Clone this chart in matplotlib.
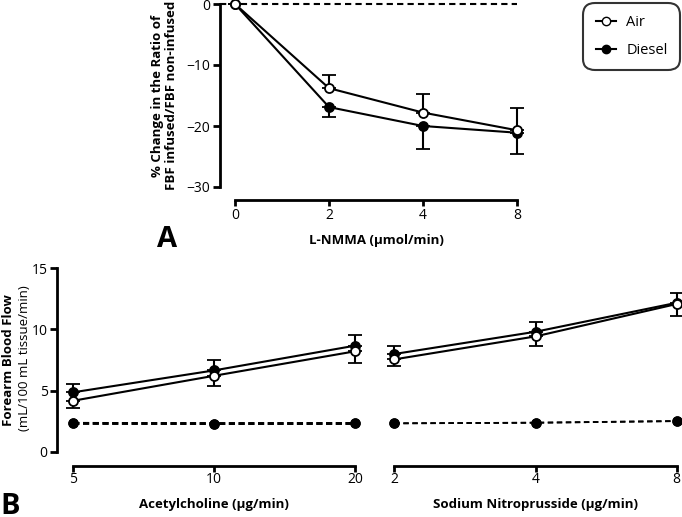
import numpy as np
import matplotlib.pyplot as plt

plt.rcParams['font.family'] = ['Open Sans', 'DejaVu Sans']

# panel A: L-NMMA
lnmma_doses = ["0", "2", "4", "8"]
lnmma_air = [0, -13.8, -17.8, -20.7]
lnmma_air_sem = [0, 2.1, 3.05, 3.7]
lnmma_diesel = [0, -16.9, -20.0, -21.1]
lnmma_diesel_sem = [0, 1.7, 3.8, 3.5]

# panel B: acetylcholine
ach_doses = ["5", "10", "20"]
ach_air = [4.17, 6.21, 8.21]
ach_air_sem = [0.62, 0.86, 0.93]
ach_diesel = [4.86, 6.65, 8.67]
ach_diesel_sem = [0.64, 0.82, 0.87]
ach_ctrl_air = [2.32, 2.30, 2.31]
ach_ctrl_diesel = [2.32, 2.30, 2.31]

# panel B: sodium nitroprusside
snp_doses = ["2", "4", "8"]
snp_air = [7.55, 9.43, 12.08]
snp_air_sem = [0.57, 0.81, 0.96]
snp_diesel = [7.99, 9.81, 12.18]
snp_diesel_sem = [0.65, 0.79, 0.77]
snp_ctrl_air = [2.32, 2.37, 2.50]
snp_ctrl_diesel = [2.32, 2.37, 2.51]

W, H = 682, 517
fig = plt.figure(figsize=(W / 100, H / 100), dpi=100)


def px_axes(x0, y0, x1, y1):
    return fig.add_axes([x0 / W, 1 - y1 / H, (x1 - x0) / W, (y1 - y0) / H])


def style(ax, left_off, bottom_off, show_left=True, xpad=2):
    ax.spines['top'].set_visible(False)
    ax.spines['right'].set_visible(False)
    ax.spines['left'].set_position(('outward', left_off))
    ax.spines['bottom'].set_position(('outward', bottom_off))
    for s in ('left', 'bottom'):
        ax.spines[s].set_linewidth(2)
    if not show_left:
        ax.spines['left'].set_visible(False)
        ax.tick_params(axis='y', left=False, labelleft=False)
    ax.tick_params(width=2, length=5, labelsize=10, pad=2)
    ax.tick_params(axis='x', length=4, pad=xpad)


lw = 1.5
ms = 6.5


def series(ax, x, y, sem, filled, up):
    err = [np.zeros(len(sem)), sem] if up else [sem, np.zeros(len(sem))]
    ax.errorbar(x, y, yerr=err, color='black', lw=lw, elinewidth=1.5,
                capsize=5, capthick=1.5, marker='o', ms=ms,
                mfc='black' if filled else 'white', mec='black', mew=1.3,
                clip_on=False, zorder=3 if filled else 4)


# ---- panel A
axA = px_axes(235, 4, 517, 187)
xA = np.arange(len(lnmma_doses))
axA.axhline(0, xmin=-0.053, xmax=1, color='black', lw=1.5, ls=(0, (3, 2)),
            clip_on=False, zorder=1)
series(axA, xA, lnmma_diesel, lnmma_diesel_sem, True, False)
series(axA, xA, lnmma_air, lnmma_air_sem, False, True)
axA.set_xlim(0, 3)
axA.set_ylim(-30, 0)
axA.set_yticks([0, -10, -20, -30])
axA.set_xticks(xA)
axA.set_xticklabels(lnmma_doses)
style(axA, 10.8, 9.4, xpad=2)
axA.set_xlabel("L-NMMA (\u03bcmol/min)", fontsize=9.5, fontweight='bold', labelpad=8)
axA.set_ylabel("% Change in the Ratio of\nFBF infused/FBF non-infused",
               fontsize=9.5, fontweight='bold', labelpad=6, linespacing=1.1)
fig.text(157 / W, 1 - 240 / H, "A", fontsize=21, fontweight='bold', va='center')

# ---- panel B left
axB1 = px_axes(73.3, 268.3, 355, 451.7)
xB = np.arange(len(ach_doses))
axB1.plot(xB, ach_ctrl_air, color='black', lw=2, ls=(0, (2.2, 1.3)), marker='o',
          ms=ms, mfc='white', mec='black', clip_on=False)
axB1.plot(xB, ach_ctrl_diesel, color='black', lw=2, ls=(0, (2.2, 1.3)), marker='o',
          ms=ms, mfc='black', mec='black', clip_on=False)
series(axB1, xB, ach_diesel, ach_diesel_sem, True, True)
series(axB1, xB, ach_air, ach_air_sem, False, False)
axB1.set_xlim(0, 2)
axB1.set_ylim(0, 15)
axB1.set_yticks([0, 5, 10, 15])
axB1.set_xticks(xB)
axB1.set_xticklabels(ach_doses)
style(axB1, 11.5, 10.3, xpad=0)
axB1.set_xlabel("Acetylcholine (\u03bcg/min)", fontsize=9.5, fontweight='bold', labelpad=8)
fig.text(9 / W, 1 - 360 / H, "Forearm Blood Flow", rotation=90, fontsize=9.5,
         fontweight='bold', ha='center', va='center')
fig.text(24.5 / W, 1 - 358 / H, "(mL/100 mL tissue/min)", rotation=90, fontsize=9.5,
         ha='center', va='center')
fig.text(0 / W, 1 - 506 / H, "B", fontsize=21, fontweight='bold', va='center')

# ---- panel B right
axB2 = px_axes(394.3, 268.3, 676.7, 451.7)
xS = np.arange(len(snp_doses))
axB2.plot(xS, snp_ctrl_air, color='black', lw=1.3, ls=(0, (3, 2)), marker='o',
          ms=ms, mfc='white', mec='black', clip_on=False)
axB2.plot(xS, snp_ctrl_diesel, color='black', lw=1.3, ls=(0, (3, 2)), marker='o',
          ms=ms, mfc='black', mec='black', clip_on=False)
series(axB2, xS, snp_diesel, snp_diesel_sem, True, True)
series(axB2, xS, snp_air, snp_air_sem, False, False)
axB2.set_xlim(0, 2)
axB2.set_ylim(0, 15)
axB2.set_xticks(xS)
axB2.set_xticklabels(snp_doses)
style(axB2, 11.5, 10.3, show_left=False, xpad=0)
axB2.set_xlabel("Sodium Nitroprusside (\u03bcg/min)", fontsize=9.5, fontweight='bold',
                labelpad=8)

# legend
h_air = plt.Line2D([], [], color='black', lw=lw, marker='o', ms=ms - 0.5,
                   mfc='white', mec='black')
h_dsl = plt.Line2D([], [], color='black', lw=lw, marker='o', ms=ms - 0.5,
                   mfc='black', mec='black')
leg = fig.legend([h_air, h_dsl], ["Air", "Diesel"], loc='upper right',
                 bbox_to_anchor=(680 / W, 1 - 3 / H), fontsize=10.5,
                 frameon=True, fancybox=True, handlelength=1.4, borderaxespad=0,
                 borderpad=0.85, labelspacing=0.85, handletextpad=0.7)
leg.get_frame().set_edgecolor('black')
leg.get_frame().set_linewidth(1.5)
leg.get_frame().set_boxstyle('round', pad=0, rounding_size=0.8)

fig.savefig("out.png", dpi=100)
